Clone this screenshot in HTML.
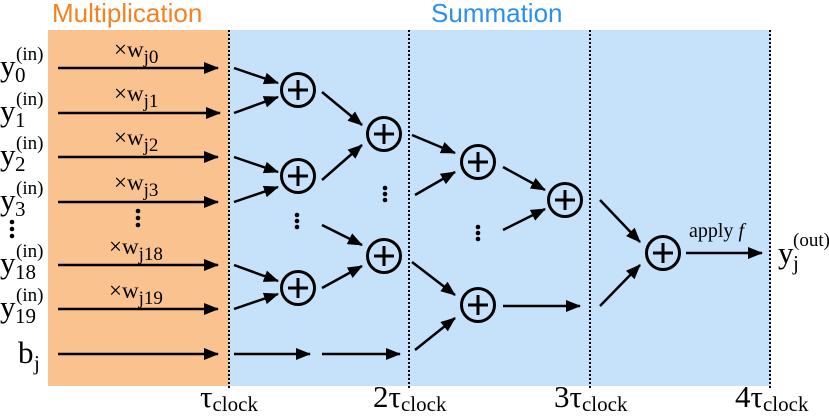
<!DOCTYPE html>
<html><head><meta charset="utf-8"><style>
html,body{margin:0;padding:0;background:#fff;}
svg{display:block;}
.t{font-family:"Liberation Serif",serif;fill:#000;}
.h{font-family:"Liberation Sans",sans-serif;font-size:26px;}
</style></head><body>
<svg width="829" height="417" viewBox="0 0 829 417" xmlns="http://www.w3.org/2000/svg">
<defs>
<marker id="a" markerWidth="16" markerHeight="12" refX="14" refY="6" orient="auto" markerUnits="userSpaceOnUse">
<path d="M0,0 L15,6 L0,12 Z" fill="#000"/></marker>
<g id="p"><circle r="16.5" fill="none" stroke="#000" stroke-width="3"/><path d="M-10,0H10M0,-10V10" stroke="#000" stroke-width="3"/></g>
</defs>
<rect x="48" y="30" width="181" height="356" fill="#FAC28F"/>
<rect x="229" y="30" width="542" height="356" fill="#C5E2FA"/>
<g stroke="#000" stroke-width="2" stroke-dasharray="2,2">
<line x1="229" y1="30" x2="229" y2="388"/><line x1="409" y1="30" x2="409" y2="388"/>
<line x1="590" y1="30" x2="590" y2="388"/><line x1="770" y1="30" x2="770" y2="388"/>
</g>
<text class="h" x="52" y="22" fill="#F5821F">Multiplication</text>
<text class="h" x="431" y="22" fill="#2A8FEF">Summation</text>
<g stroke="#000" stroke-width="2.5" marker-end="url(#a)" fill="none">
<line x1="58" y1="68" x2="218" y2="68"/><line x1="58" y1="113" x2="220" y2="113"/>
<line x1="58" y1="157" x2="218" y2="157"/><line x1="58" y1="202" x2="218" y2="202"/>
<line x1="58" y1="265" x2="218" y2="265"/><line x1="58" y1="309" x2="218" y2="309"/>
<line x1="58" y1="354" x2="218" y2="354"/>
<line x1="234" y1="354" x2="310" y2="354"/><line x1="322" y1="354" x2="400" y2="354"/>
<line x1="234" y1="68" x2="278" y2="83"/><line x1="234" y1="113" x2="278" y2="97"/>
<line x1="234" y1="157" x2="278" y2="172"/><line x1="234" y1="202" x2="278" y2="187"/>
<line x1="234" y1="265" x2="278" y2="281"/><line x1="234" y1="309" x2="278" y2="294"/>
<line x1="322" y1="92" x2="362" y2="125"/><line x1="322" y1="180" x2="362" y2="145"/>
<line x1="322" y1="225" x2="362" y2="245"/><line x1="322" y1="288" x2="362" y2="266"/>
<line x1="412" y1="135" x2="455" y2="153"/><line x1="415" y1="195" x2="455" y2="172"/>
<line x1="412" y1="262" x2="455" y2="295"/><line x1="415" y1="350" x2="455" y2="318"/>
<line x1="503" y1="167" x2="545" y2="190"/><line x1="503" y1="230" x2="545" y2="209"/>
<line x1="503" y1="306" x2="580" y2="306"/>
<line x1="600" y1="200" x2="640" y2="242"/><line x1="600" y1="306" x2="640" y2="265"/>
<line x1="686" y1="253" x2="762" y2="253"/>
</g>
<use href="#p" x="298" y="90"/><use href="#p" x="298" y="176"/><use href="#p" x="298" y="288"/>
<use href="#p" x="384" y="134"/><use href="#p" x="384" y="256"/>
<use href="#p" x="478" y="162"/><use href="#p" x="478" y="305"/>
<use href="#p" x="565" y="200"/><use href="#p" x="663" y="253"/>
<g fill="#000">
<circle cx="138" cy="211" r="2.3"/><circle cx="138" cy="218" r="2.3"/><circle cx="138" cy="225" r="2.3"/>
<circle cx="12" cy="222" r="2.3"/><circle cx="12" cy="229" r="2.3"/><circle cx="12" cy="236" r="2.3"/>
<circle cx="297" cy="215" r="2.3"/><circle cx="297" cy="221" r="2.3"/><circle cx="297" cy="227" r="2.3"/>
<circle cx="385" cy="188" r="2.3"/><circle cx="385" cy="194" r="2.3"/><circle cx="385" cy="200" r="2.3"/>
<circle cx="478" cy="227" r="2.3"/><circle cx="478" cy="233" r="2.3"/><circle cx="478" cy="239" r="2.3"/>
</g>
<g class="t">
<text x="0" y="76" font-size="31">y</text><text x="15" y="82" font-size="21">0</text><text x="16" y="60" font-size="19">(in)</text>
<text x="0" y="121" font-size="31">y</text><text x="15" y="127" font-size="21">1</text><text x="16" y="105" font-size="19">(in)</text>
<text x="0" y="165" font-size="31">y</text><text x="15" y="171" font-size="21">2</text><text x="16" y="149" font-size="19">(in)</text>
<text x="0" y="210" font-size="31">y</text><text x="15" y="216" font-size="21">3</text><text x="16" y="194" font-size="19">(in)</text>
<text x="0" y="273" font-size="31">y</text><text x="15" y="279" font-size="21">18</text><text x="16" y="257" font-size="19">(in)</text>
<text x="0" y="317" font-size="31">y</text><text x="15" y="323" font-size="21">19</text><text x="16" y="301" font-size="19">(in)</text>
<text x="18" y="363" font-size="31">b</text><text x="34" y="370" font-size="21">j</text>
<text x="114" y="57" font-size="23">×w<tspan font-size="19" dy="6">j0</tspan></text>
<text x="114" y="101" font-size="23">×w<tspan font-size="19" dy="6">j1</tspan></text>
<text x="114" y="145" font-size="23">×w<tspan font-size="19" dy="6">j2</tspan></text>
<text x="114" y="190" font-size="23">×w<tspan font-size="19" dy="6">j3</tspan></text>
<text x="109" y="254" font-size="23">×w<tspan font-size="19" dy="6">j18</tspan></text>
<text x="109" y="298" font-size="23">×w<tspan font-size="19" dy="6">j19</tspan></text>
<text x="689" y="237" font-size="20">apply <tspan font-style="italic">f</tspan></text>
<text x="778" y="263" font-size="31">y</text><text x="793" y="270" font-size="21">j</text><text x="793" y="246" font-size="19">(out)</text>
<text x="200" y="407" font-size="31">τ<tspan font-size="21" dy="4">clock</tspan></text>
<text x="373" y="407" font-size="31">2τ<tspan font-size="21" dy="4">clock</tspan></text>
<text x="554" y="407" font-size="31">3τ<tspan font-size="21" dy="4">clock</tspan></text>
<text x="735" y="407" font-size="31">4τ<tspan font-size="21" dy="4">clock</tspan></text>
</g>
</svg>
</body></html>
